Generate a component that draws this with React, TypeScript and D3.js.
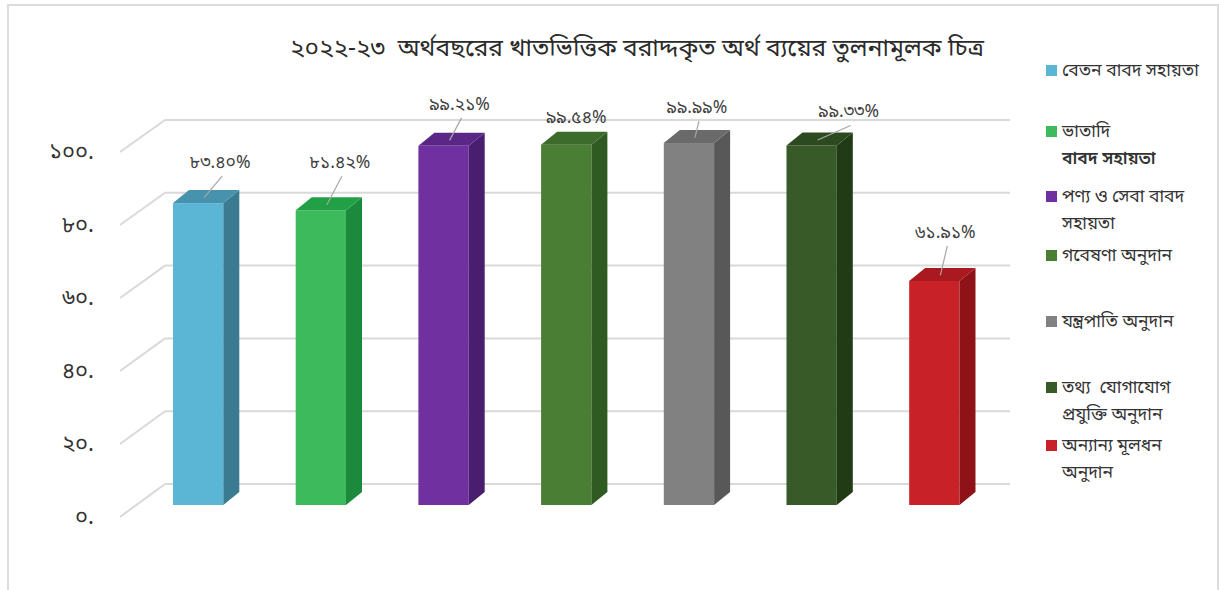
import React from "react";
import * as d3 from "d3";

const title = "২০২২-২৩  অর্থবছরের খাতভিত্তিক বরাদ্দকৃত অর্থ ব্যয়ের তুলনামূলক চিত্র";
const categories = [
  "বেতন বাবদ সহায়তা",
  "ভাতাদি বাবদ সহায়তা",
  "পণ্য ও সেবা বাবদ সহায়তা",
  "গবেষণা অনুদান",
  "যন্ত্রপাতি অনুদান",
  "তথ্য যোগাযোগ প্রযুক্তি অনুদান",
  "অন্যান্য মূলধন অনুদান",
];
const values = [83.4, 81.42, 99.21, 99.54, 99.99, 99.33, 61.91];
const valueLabels = ["৮৩.৪০%", "৮১.৪২%", "৯৯.২১%", "৯৯.৫৪%", "৯৯.৯৯%", "৯৯.৩৩%", "৬১.৯১%"];
const tickValues = [0, 20, 40, 60, 80, 100];
const tickLabels = ["০.", "২০.", "৪০.", "৬০.", "৮০.", "১০০."];
const legendLines = [
  ["বেতন বাবদ সহায়তা"],
  ["ভাতাদি", "বাবদ সহায়তা"],
  ["পণ্য ও সেবা বাবদ", "সহায়তা"],
  ["গবেষণা অনুদান"],
  ["যন্ত্রপাতি অনুদান"],
  ["তথ্য  যোগাযোগ", "প্রযুক্তি অনুদান"],
  ["অন্যান্য মূলধন", "অনুদান"],
];

// styles
const colors = [
  { front: "#5bb5d5", side: "#3a7b92", top: "#4793ad" },
  { front: "#3dba5b", side: "#1c8a3c", top: "#22a046" },
  { front: "#7030a0", side: "#4a1e6e", top: "#5b2787" },
  { front: "#4a7e35", side: "#2f5a21", top: "#3c6b2b" },
  { front: "#818181", side: "#585858", top: "#6a6a6a" },
  { front: "#385a29", side: "#213b17", top: "#2c4a1f" },
  { front: "#c92128", side: "#8d1318", top: "#a9191f" },
];
const labelNudge = [
  [22, -41], [19, -48], [16, -42], [10, -28], [8, -36], [37, -34], [11, -49],
];
const legendY = [70, 131, 196, 255, 321, 387, 445];

const FONT = "'Noto Sans Bengali', 'Lohit Bengali', 'Noto Serif Bengali', 'FreeSans', sans-serif";

export default function App() {
  const W = 1219;
  const H = 590;
  const depthX = 16;
  const depthY = -13;

  const x = d3
    .scaleBand<number>()
    .domain(d3.range(values.length))
    .range([136.2, 996.3])
    .paddingInner(0.59)
    .paddingOuter(0.3);
  const yFront = d3.scaleLinear().domain([0, 100]).range([505, 143]);
  const yBack = d3.scaleLinear().domain([0, 100]).range([484, 120]);
  const ySide = d3.scaleLinear().domain([0, 100]).range([517, 152]);
  const backX0 = 165;
  const backX1 = 1010;
  const sideX0 = 120;

  const bw = x.bandwidth();

  return (
    <svg width={W} height={H} style={{ display: "block", position: "absolute", left: 0, top: 0 }}>
      <rect x={0} y={0} width={W} height={H} fill="#ffffff" />
      <rect x={8} y={5} width={1210} height={600} fill="none" stroke="#dcdcdc" strokeWidth={2} />
      {/* gridlines */}
      {tickValues.map((t) => (
        <g key={t}>
          <line x1={sideX0} y1={ySide(t)} x2={backX0} y2={yBack(t)} stroke="#d9d9d9" strokeWidth={2} />
          <line x1={backX0} y1={yBack(t)} x2={backX1} y2={yBack(t)} stroke="#d9d9d9" strokeWidth={2} />
        </g>
      ))}
      {/* tick labels */}
      {tickValues.map((t, i) => (
        <text
          key={"t" + t}
          x={94}
          y={ySide(t) + 7}
          textAnchor="end"
          fontFamily={FONT}
          fontSize={22}
          fill="#333"
        >
          {tickLabels[i]}
        </text>
      ))}
      {/* bars */}
      {values.map((v, i) => {
        const x0 = x(i)!;
        const x1 = x0 + bw;
        const yb = yFront(0);
        const yt = yFront(v);
        const c = colors[i];
        const side = `M${x1},${yt} L${x1 + depthX},${yt + depthY} L${x1 + depthX},${yb + depthY} L${x1},${yb} Z`;
        const top = `M${x0},${yt} L${x0 + depthX},${yt + depthY} L${x1 + depthX},${yt + depthY} L${x1},${yt} Z`;
        return (
          <g key={"b" + i}>
            <rect x={x0} y={yt} width={bw} height={yb - yt} fill={c.front} />
            <path d={side} fill={c.side} />
            <path d={top} fill={c.top} />
          </g>
        );
      })}
      {/* data labels */}
      {values.map((v, i) => {
        const cx = x(i)! + bw / 2;
        const yt = yFront(v);
        const lx = cx + labelNudge[i][0];
        const ly = yt + labelNudge[i][1];
        const tx = cx + depthX / 2 - 2;
        const ty = yt + depthY / 2 + 1;
        return (
          <g key={"l" + i}>
            {ly + 14 < ty - 10 && (
              <line x1={lx + 2} y1={ly + 14} x2={tx} y2={ty} stroke="#a6a6a6" strokeWidth={1.2} />
            )}
            <text x={lx} y={ly + 6} textAnchor="middle" fontFamily={FONT} fontSize={17.5} fill="#404040">
              {valueLabels[i]}
            </text>
          </g>
        );
      })}
      {/* title */}
      <text
        x={637}
        y={56}
        textAnchor="middle"
        fontFamily={FONT}
        fontSize={24.5}
        fill="#2b2b2b"
        style={{ whiteSpace: "pre" }}
      >
        {title}
      </text>
      {/* legend */}
      {categories.map((cat, i) => (
        <g key={"lg" + i}>
          <rect x={1046} y={legendY[i] - 5} width={11} height={11} fill={colors[i].front} />
          {legendLines[i].map((ln, j) => (
            <text
              key={j}
              x={1062}
              y={legendY[i] + 6 + j * 27}
              fontFamily={FONT}
              fontSize={17.5}
              fontWeight={i === 1 && j === 1 ? 600 : 400}
              fill="#333"
              style={{ whiteSpace: "pre" }}
            >
              {ln}
            </text>
          ))}
        </g>
      ))}
    </svg>
  );
}
